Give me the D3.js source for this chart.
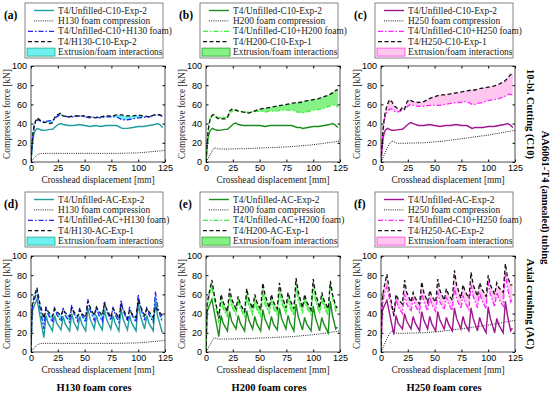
<!DOCTYPE html>
<html>
<head>
<meta charset="utf-8">
<script src="https://cdn.jsdelivr.net/npm/d3@7"></script>
<style>
body { margin:0; background:#fff; }
svg { display:block; font-family:"Liberation Serif","Times New Roman",serif; }
</style>
</head>
<body>
<div id="chart"></div>
<script>
// axis ticks
var xTicks = [0, 25, 50, 75, 100, 125];
var yTicks = [0, 20, 40, 60, 80, 100];

// foam compression curves (shared by C10 and AC panels)
var foamX   = [0, 2, 4, 6, 8, 10, 12, 15, 20, 40, 60, 80, 100, 110, 120, 125];
var foamH130 = [0, 3, 5.5, 7.5, 8.5, 9, 9, 9, 9, 9, 9, 9, 9.5, 10.5, 11.5, 12];
var foamH200 = [0, 4, 8, 12, 15, 14, 13.5, 13.5, 13.5, 14, 15, 16, 18, 19.5, 21, 22];
var foamH250 = [0, 5, 10, 15, 19, 22, 21, 19.5, 19.5, 20, 22, 25, 28, 30, 32, 33];

// 10-bl. cutting (C10) displacement grid
var c10X = [0, 1, 2, 3, 4, 6, 8, 10, 12, 15, 18, 20, 22, 24, 26, 28, 30, 35, 40, 45, 50, 55, 60, 65, 70, 75, 80, 85, 88, 90, 95, 100, 105, 110, 115, 118, 120, 122, 123];
// (a) H130 C10
var unfA = [0, 15, 25, 30, 33, 35, 34, 33, 33, 33.5, 34, 34, 36, 38, 39.5, 40, 39, 38, 38, 39, 38, 37, 38, 37, 38, 38, 38, 35, 35, 35, 36, 37, 37, 38, 39, 40, 39, 37, 36];
var sumA = [0, 18, 30, 37, 41, 44, 43, 42, 42, 42.5, 43, 43, 45, 47, 48.5, 49, 48, 47, 47, 48, 47, 46, 47, 46, 47, 47, 47, 44, 44, 44, 45, 46, 46.5, 47, 48.5, 49.5, 49, 48, 47];
var expA = [0, 20, 32, 38, 42, 46, 44, 42, 41, 41.5, 40, 41, 46, 49, 50, 51, 48, 47, 48, 48, 48, 47, 46, 47, 48, 48, 49, 49, 48, 48, 48, 49, 48, 47, 49, 49, 49, 48, 48];
// (b) H200 C10
var unfB = [0, 15, 25, 30, 33, 35, 34, 33, 33, 33.5, 34, 34, 36, 38, 40, 40.5, 39, 38, 38, 38, 38, 37, 38, 38, 38, 38, 38, 36, 36, 35, 36, 37, 37, 38, 39, 40, 39, 37, 36];
var sumB = [0, 18, 32, 40, 45, 49, 49, 47, 46, 46.5, 47, 47, 50, 52, 54, 54.5, 53, 52, 52, 52.5, 53, 52, 53, 53, 54, 54, 54, 52, 52, 51, 52.5, 54, 54.5, 56, 58, 59.5, 59, 58, 57];
var expB = [0, 20, 33, 40, 45, 49, 49, 46, 45, 45, 45, 46, 53, 55, 54, 54, 53, 52, 51, 53, 55, 56, 57, 58, 59, 60, 61, 62, 62, 63, 64, 65, 66, 68, 70, 72, 74, 75, 75];
// (c) H250 C10
var unfC = [0, 15, 25, 30, 33, 35, 34, 33, 33, 33.5, 34, 34, 36, 38, 40, 41, 40, 38, 38, 39, 38, 37, 38, 38, 39, 38, 38, 35, 36, 36, 36, 37, 37, 38, 39, 40, 39, 37, 36];
var sumC = [0, 18, 32, 42, 48, 53, 55, 55, 53, 52, 53, 54, 56, 57, 59, 60, 59, 58, 58, 59, 59, 59, 60, 61, 62, 62, 63, 60, 60, 61, 62, 64, 65, 66, 68, 70, 71, 70, 69];
var expC = [0, 20, 35, 45, 52, 60, 65, 63, 59, 56, 54, 57, 55, 62, 65, 64, 63, 62, 63, 66, 68, 70, 70, 71, 72, 73, 74, 75, 75, 76, 77, 78, 79, 81, 84, 87, 90, 92, 92];

// axial crushing (AC) displacement grid
var acX = [0, 1, 3, 5.5, 8, 12, 14, 16, 20, 22, 24, 28, 30, 32, 36, 38, 40, 43.5, 45.5, 47.5, 51, 53, 55, 59, 61, 63, 66.5, 68.5, 70.5, 74.5, 76.5, 78.5, 82, 84, 86, 90, 92, 94, 98, 100, 102, 106, 108, 110, 114, 116, 118, 121, 122.5];
// (d) H130 AC
var unfD = [0, 42, 48, 55, 40, 15, 38, 30, 22, 38, 30, 23, 37, 29, 22, 40, 31, 23, 37, 29, 22, 46, 35, 24, 38, 30, 23, 44, 34, 24, 38, 30, 22, 45, 34, 23, 38, 30, 22, 51, 38, 24, 38, 30, 22, 53, 38, 26, 20];
var sumD = [0, 45, 54, 62, 48, 24, 47, 39, 31, 47, 39, 32, 46, 38, 31, 49, 40, 32, 46, 38, 31, 55, 44, 33, 47, 39, 32, 53, 43, 33, 47, 39, 31, 54, 43, 32, 47, 39, 31, 60, 47, 33, 47, 39, 31, 63, 48, 36, 31];
var expD = [0, 48, 58, 67, 52, 35, 46, 42, 37, 45, 42, 38, 44, 41, 37, 46, 42, 37, 44, 40, 36, 53, 47, 38, 47, 43, 38, 50, 45, 36, 45, 42, 35, 49, 45, 35, 44, 40, 36, 54, 48, 38, 45, 42, 36, 47, 44, 40, 38];
// (e) H200 AC
var unfE = [0, 42, 48, 55, 40, 16, 38, 30, 22, 42, 32, 24, 38, 30, 22, 43, 33, 24, 37, 29, 22, 44, 34, 24, 37, 29, 23, 46, 35, 24, 38, 30, 22, 50, 37, 23, 36, 29, 22, 48, 36, 22, 36, 29, 20, 53, 38, 24, 26];
var sumE = [0, 45, 58, 66, 54, 30, 53, 45, 37, 57, 47, 39, 53, 45, 37, 58, 48, 39, 52, 44, 37, 60, 50, 40, 53, 45, 39, 62, 51, 40, 54, 46, 38, 67, 54, 40, 53, 46, 39, 66, 54, 40, 54, 47, 38, 72, 57, 43, 45];
var expE = [0, 50, 62, 75, 58, 35, 60, 52, 42, 66, 55, 45, 58, 50, 42, 66, 55, 45, 60, 52, 44, 72, 60, 46, 60, 52, 45, 72, 60, 46, 62, 54, 45, 77, 63, 46, 60, 52, 44, 76, 62, 46, 62, 54, 45, 74, 60, 48, 46];
// (f) H250 AC
var unfF = [0, 42, 48, 54, 40, 18, 38, 30, 24, 40, 32, 24, 37, 30, 22, 42, 33, 24, 37, 29, 22, 42, 33, 24, 36, 29, 22, 46, 35, 24, 37, 29, 22, 46, 35, 22, 36, 29, 20, 47, 35, 20, 35, 28, 20, 53, 38, 22, 25];
var sumF = [0, 45, 60, 68, 55, 37, 55, 47, 40, 60, 50, 42, 56, 48, 41, 62, 52, 43, 57, 49, 42, 62, 52, 44, 57, 50, 43, 67, 56, 45, 59, 51, 44, 70, 58, 46, 62, 54, 45, 73, 60, 47, 62, 55, 48, 82, 66, 52, 55];
var expF = [0, 55, 68, 81, 62, 38, 60, 55, 50, 75, 62, 52, 62, 56, 50, 73, 62, 52, 64, 58, 52, 76, 64, 54, 66, 60, 54, 85, 70, 56, 70, 63, 56, 83, 70, 58, 72, 66, 58, 80, 70, 60, 72, 67, 62, 92, 78, 70, 70];

var colorsH130 = {main:'#1f9c9c', sum:'#2424ff', fill:'#6ef0f0', edge:'#22b08c'};
var colorsH200 = {main:'#1c8c1c', sum:'#3cf03c', fill:'#86f286', edge:'#22a022'};
var colorsH250 = {main:'#a0168e', sum:'#ff24ff', fill:'#ffc6f0', edge:'#ff40e0'};

var panels = [
    {tag:'(a)', col:0, row:0, x:c10X, unf:unfA, sum:sumA, exp:expA, fx:foamX, foam:foamH130, c:colorsH130,
     leg:['T4/Unfilled-C10-Exp-2','H130 foam compression','T4/Unfilled-C10+H130 foam)','T4/H130-C10-Exp-2','Extrusion/foam interactions']},
    {tag:'(b)', col:1, row:0, x:c10X, unf:unfB, sum:sumB, exp:expB, fx:foamX, foam:foamH200, c:colorsH200,
     leg:['T4/Unfilled-C10-Exp-2','H200 foam compression','T4/Unfilled-C10+H200 foam)','T4/H200-C10-Exp-1','Extrusion/foam interactions']},
    {tag:'(c)', col:2, row:0, x:c10X, unf:unfC, sum:sumC, exp:expC, fx:foamX, foam:foamH250, c:colorsH250,
     leg:['T4/Unfilled-C10-Exp-2','H250 foam compression','T4/Unfilled-C10+H250 foam)','T4/H250-C10-Exp-1','Extrusion/foam interactions']},
    {tag:'(d)', col:0, row:1, x:acX, unf:unfD, sum:sumD, exp:expD, fx:foamX, foam:foamH130, c:colorsH130,
     leg:['T4/Unfilled-AC-Exp-2','H130 foam compression','T4/Unfilled-AC+H130 foam)','T4/H130-AC-Exp-1','Extrusion/foam interactions']},
    {tag:'(e)', col:1, row:1, x:acX, unf:unfE, sum:sumE, exp:expE, fx:foamX, foam:foamH200, c:colorsH200,
     leg:['T4/Unfilled-AC-Exp-2','H200 foam compression','T4/Unfilled-AC+H200 foam)','T4/H200-AC-Exp-1','Extrusion/foam interactions']},
    {tag:'(f)', col:2, row:1, x:acX, unf:unfF, sum:sumF, exp:expF, fx:foamX, foam:foamH250, c:colorsH250,
     leg:['T4/Unfilled-AC-Exp-2','H250 foam compression','T4/Unfilled-C10+H250 foam)','T4/H250-AC-Exp-2','Extrusion/foam interactions']}
];
var coreLabels = ['H130 foam cores', 'H200 foam cores', 'H250 foam cores'];

var W = 550, H = 395;
var plotLeft = [31, 206, 381], plotW = 134;
var plotTop = [66, 256], plotH = 96;
var legTop = [3, 192];

var svg = d3.select('#chart').append('svg').attr('width', W).attr('height', H);

var dashed = '4,2.5', dashdot = '5,2,1.5,2', dotted = '1,1.2';

panels.forEach(function(p, i) {
    var L = plotLeft[p.col], T = plotTop[p.row];
    var x = d3.scaleLinear().domain([0, 125]).range([L, L + plotW]);
    var y = d3.scaleLinear().domain([0, 100]).range([T + plotH, T]);
    var g = svg.append('g');

    g.append('clipPath').attr('id', 'clip' + i).append('rect')
        .attr('x', L).attr('y', T).attr('width', plotW).attr('height', plotH);
    var plot = g.append('g').attr('clip-path', 'url(#clip' + i + ')');

    var idx = d3.range(p.x.length);
    var area = d3.area().x(function(k){ return x(p.x[k]); })
        .y0(function(k){ return y(p.sum[k]); }).y1(function(k){ return y(p.exp[k]); });
    plot.append('path').datum(idx).attr('d', area).attr('fill', p.c.fill);

    var mk = function(arr, xs) {
        return d3.line().x(function(k){ return x(xs[k]); }).y(function(k){ return y(arr[k]); });
    };
    plot.append('path').datum(d3.range(p.fx.length)).attr('d', mk(p.foam, p.fx))
        .attr('fill', 'none').attr('stroke', '#222').attr('stroke-width', 1).attr('stroke-dasharray', dotted);
    plot.append('path').datum(idx).attr('d', mk(p.unf, p.x))
        .attr('fill', 'none').attr('stroke', p.c.main).attr('stroke-width', 1.4);
    plot.append('path').datum(idx).attr('d', mk(p.sum, p.x))
        .attr('fill', 'none').attr('stroke', p.c.sum).attr('stroke-width', 1.3).attr('stroke-dasharray', dashdot);
    plot.append('path').datum(idx).attr('d', mk(p.exp, p.x))
        .attr('fill', 'none').attr('stroke', '#111').attr('stroke-width', 1.3).attr('stroke-dasharray', dashed);

    // axes with inward ticks, box around
    g.append('g').attr('transform', 'translate(0,' + (T + plotH) + ')')
        .call(d3.axisBottom(x).tickValues(xTicks).tickSizeInner(-2.5).tickSizeOuter(0).tickPadding(2.5))
        .call(function(a){ a.select('.domain').remove(); a.selectAll('text').attr('font-size', 9).attr('font-family', null); });
    g.append('g').attr('transform', 'translate(' + L + ',0)')
        .call(d3.axisLeft(y).tickValues(yTicks).tickSizeInner(-2.5).tickSizeOuter(0).tickPadding(4))
        .call(function(a){ a.select('.domain').remove(); a.selectAll('text').attr('font-size', 9).attr('font-family', null); });
    g.append('g').attr('transform', 'translate(0,' + T + ')')
        .call(d3.axisTop(x).tickValues(xTicks).tickSizeInner(-2.5).tickSizeOuter(0).tickFormat(''))
        .call(function(a){ a.select('.domain').remove(); });
    g.append('g').attr('transform', 'translate(' + (L + plotW) + ',0)')
        .call(d3.axisRight(y).tickValues(yTicks).tickSizeInner(-2.5).tickSizeOuter(0).tickFormat(''))
        .call(function(a){ a.select('.domain').remove(); });
    g.append('rect').attr('x', L).attr('y', T).attr('width', plotW).attr('height', plotH)
        .attr('fill', 'none').attr('stroke', '#222').attr('stroke-width', 0.8);

    g.append('text').attr('x', L + plotW / 2).attr('y', T + plotH + 21)
        .attr('text-anchor', 'middle').attr('font-size', 9.3).attr('fill', '#222').text('Crosshead displacement [mm]');
    g.append('text').attr('transform', 'translate(' + (L - 21) + ',' + (T + plotH / 2) + ') rotate(-90)')
        .attr('text-anchor', 'middle').attr('font-size', 9.3).attr('fill', '#222').text('Compressive force [kN]');

    // panel tag
    g.append('text').attr('x', L - 27).attr('y', legTop[p.row] + 16)
        .attr('font-size', 11.5).attr('font-weight', 'bold').text(p.tag);

    // legend
    var lx = L - 6, ly = legTop[p.row], lw = 138, lh = 55;
    g.append('rect').attr('x', lx).attr('y', ly).attr('width', lw).attr('height', lh)
        .attr('fill', '#fff').attr('stroke', '#666').attr('stroke-width', 0.8);
    var rows = [
        {stroke:p.c.main, dash:null, w:1.4},
        {stroke:'#222', dash:dotted, w:1},
        {stroke:p.c.sum, dash:dashdot, w:1.3},
        {stroke:'#111', dash:dashed, w:1.3},
        null
    ];
    p.leg.forEach(function(t, r) {
        var cy = ly + 7.5 + r * 10.4;
        if (rows[r]) {
            g.append('line').attr('x1', lx + 3 + (r < 2 ? 6 : 0)).attr('x2', lx + 29).attr('y1', cy).attr('y2', cy)
                .attr('stroke', rows[r].stroke).attr('stroke-width', rows[r].w).attr('stroke-dasharray', rows[r].dash);
        } else {
            g.append('rect').attr('x', lx + 2).attr('y', cy - 4).attr('width', 28).attr('height', 8)
                .attr('fill', p.c.fill).attr('stroke', p.c.edge).attr('stroke-width', 0.8);
        }
        g.append('text').attr('x', lx + 33).attr('y', cy + 3).attr('font-size', 9.4).attr('fill', '#222').text(t);
    });
});

// bottom labels
coreLabels.forEach(function(t, c) {
    svg.append('text').attr('x', plotLeft[c] + plotW / 2 - 4).attr('y', 391)
        .attr('text-anchor', 'middle').attr('font-size', 10.5).attr('font-weight', 'bold').text(t);
});

// right-hand side labels
var sideLabels = [
    {t:'10-bl. Cutting (C10)', x:531, y:plotTop[0] + plotH / 2},
    {t:'AA6061-T4 (annealed) tubing', x:546, y:H / 2},
    {t:'Axial crushing (AC)', x:531, y:plotTop[1] + plotH / 2}
];
svg.selectAll('text.side').data(sideLabels).enter().append('text').attr('class', 'side')
    .attr('transform', function(d){ return 'translate(' + d.x + ',' + d.y + ') rotate(90)'; })
    .attr('text-anchor', 'middle').attr('dy', '0.35em').attr('font-size', 10.5).attr('font-weight', 'bold')
    .text(function(d){ return d.t; });
</script>
</body>
</html>
